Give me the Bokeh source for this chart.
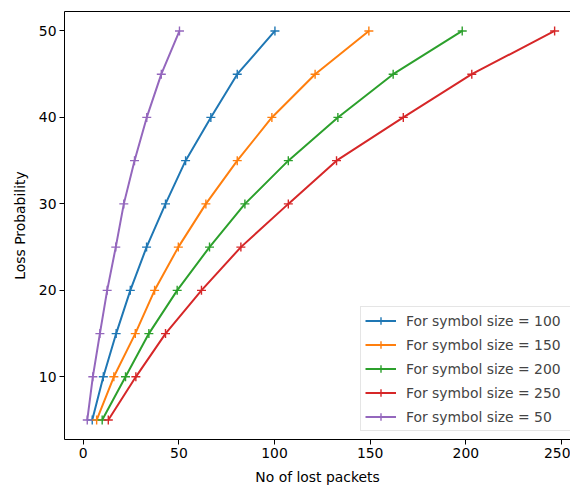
from bokeh.plotting import figure
from bokeh.models import Range1d, FixedTicker, Legend, LegendItem, LinearAxis
from bokeh.embed import file_html
from bokeh.resources import INLINE

loss_prob = [5, 10, 15, 20, 25, 30, 35, 40, 45, 50]
lost_100 = [4.7, 10.5, 17.2, 24.6, 33.1, 43.0, 53.5, 66.7, 80.5, 100.2]
lost_150 = [7.0, 16.0, 27.2, 37.3, 49.7, 64.1, 80.5, 98.6, 121.2, 149.3]
lost_200 = [9.9, 22.1, 34.3, 49.1, 66.0, 84.5, 107.2, 133.1, 162.0, 198.1]
lost_250 = [13.1, 27.5, 43.0, 61.8, 82.4, 107.2, 132.4, 167.3, 203.1, 246.4]
lost_50 = [2.1, 5.0, 8.7, 12.5, 17.0, 21.2, 26.8, 33.2, 40.8, 50.3]

labels = ["For symbol size = 100", "For symbol size = 150", "For symbol size = 200",
          "For symbol size = 250", "For symbol size = 50"]
series = [lost_100, lost_150, lost_200, lost_250, lost_50]
colors = ["#1f77b4", "#ff7f0e", "#2ca02c", "#d62728", "#9467bd"]
x_ticks = [0, 50, 100, 150, 200, 250]
y_ticks = [10, 20, 30, 40, 50]

FONT = "DejaVu Sans"
FS = "13.9px"

p = figure(width=570, height=487, output_backend="svg", toolbar_location=None,
           x_range=Range1d(-9.8, 254.7), y_range=Range1d(2.75, 52.25),
           min_border_left=64, min_border_top=11, min_border_right=0, min_border_bottom=47)
p.xgrid.visible = False
p.ygrid.visible = False
p.outline_line_color = None
p.background_fill_color = "white"
p.border_fill_color = "white"

bottom_axis = p.below[0]
left_axis = p.left[0]

items = []
for xs, lab, c in zip(series, labels, colors):
    r1 = p.line(xs, loss_prob, line_color=c, line_width=2)
    r2 = p.scatter(xs, loss_prob, marker="cross", size=9, line_color=c, line_width=1.4)
    items.append(LegendItem(label=lab, renderers=[r1, r2]))

legend = Legend(items=items, location=(296, 8), margin=0, padding=4, spacing=5,
                glyph_width=31, glyph_height=19, label_height=19, label_standoff=10,
                label_width=190,
                label_text_font=FONT, label_text_font_size=FS,
                border_line_color="#cccccc", border_line_width=1,
                background_fill_alpha=0.8)
p.add_layout(legend)

for ax, ticks in ((bottom_axis, x_ticks), (left_axis, y_ticks)):
    ax.ticker = FixedTicker(ticks=ticks)
    ax.minor_tick_line_color = None
    ax.major_tick_out = 5
    ax.major_tick_in = 0
    ax.major_label_standoff = 3
    ax.major_label_text_font = FONT
    ax.major_label_text_font_size = FS
    ax.major_label_text_color = "black"
    ax.axis_label_text_font = FONT
    ax.axis_label_text_font_size = FS
    ax.axis_label_text_font_style = "normal"
    ax.axis_label_text_color = "black"
    ax.axis_line_color = "black"

bottom_axis.axis_label = "No of lost packets"
left_axis.axis_label = "Loss Probability"
bottom_axis.axis_label_standoff = 8
left_axis.axis_label_standoff = 8

top_axis = LinearAxis(ticker=FixedTicker(ticks=[]), major_label_text_font_size="0px",
                      major_tick_line_color=None, minor_tick_line_color=None,
                      major_tick_out=0, major_label_standoff=0,
                      axis_line_color="black")
p.add_layout(top_axis, "above")

open("out.html", "w").write(file_html(p, INLINE))
